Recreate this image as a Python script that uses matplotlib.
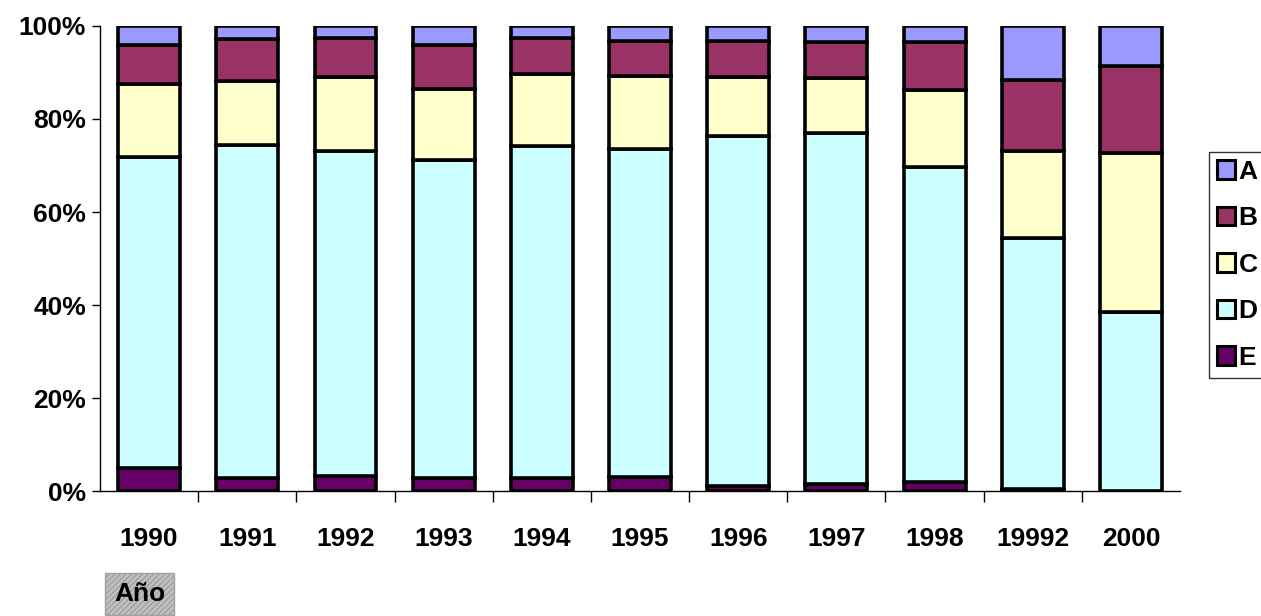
import numpy as np
import matplotlib.pyplot as plt
from matplotlib.patches import Patch

plt.rcParams['font.family'] = ['Liberation Sans', 'DejaVu Sans']
plt.rcParams['font.weight'] = 'bold'
plt.rcParams['hatch.color'] = '#888888'

# data (percent shares per year)
years = ['1990', '1991', '1992', '1993', '1994', '1995', '1996', '1997', '1998', '19992', '2000']
E = [4.9, 2.8, 3.2, 2.8, 2.8, 3.0, 1.1, 1.5, 1.9, 0.4, 0.1]
D = [66.9, 71.6, 69.9, 68.4, 71.4, 70.5, 75.2, 75.5, 67.8, 54.0, 38.4]
C = [15.7, 13.8, 15.9, 15.3, 15.5, 15.7, 12.7, 11.8, 16.5, 18.7, 34.2]
B = [8.4, 9.0, 8.4, 9.4, 7.7, 7.6, 7.8, 7.8, 10.4, 15.3, 18.6]
A = [4.1, 2.8, 2.6, 4.1, 2.6, 3.2, 3.2, 3.4, 3.4, 11.6, 8.7]

series = [('E', E, '#660066'), ('D', D, '#CCFFFF'), ('C', C, '#FFFFCC'),
          ('B', B, '#993366'), ('A', A, '#9999FF')]

fig = plt.figure(figsize=(12.61, 6.16), dpi=100)
ax = fig.add_axes([0.0793, 0.2029, 0.8565, 0.7549])

x = np.arange(len(years))
bottom = np.zeros(len(years))
for name, vals, col in series:
    vals = np.array(vals)
    ax.bar(x, vals, bottom=bottom, width=0.63, color=col, edgecolor='black', linewidth=2.6)
    bottom += vals

ax.set_xlim(-0.5, len(years) - 0.5)
ax.set_ylim(0, 100)
ax.set_yticks(np.arange(0, 101, 20))
ax.set_yticklabels([f'{v}%' for v in range(0, 101, 20)], fontsize=19, fontweight='bold')
ax.set_xticks(x)
ax.set_xticklabels(years, fontsize=19, fontweight='bold')
ax.tick_params(axis='x', length=0, pad=26)
ax.set_xticks(np.arange(0.5, len(years) - 0.5, 1), minor=True)
ax.tick_params(axis='x', which='minor', length=8, direction='out', width=1)
ax.tick_params(axis='y', length=6, width=1, pad=4)
ax.spines['top'].set_visible(False)
ax.spines['right'].set_visible(False)
ax.spines['left'].set_linewidth(1)
ax.spines['bottom'].set_linewidth(1)

# legend, top entry first (cut off at the right edge like the original)
handles = [Patch(facecolor=col, edgecolor='black', linewidth=2.2, label=name)
           for name, vals, col in series[::-1]]
leg = fig.legend(handles=handles, loc='upper left', bbox_to_anchor=(1209 / 1261, 1 - 152 / 616),
                 frameon=True, fancybox=False, edgecolor='black', fontsize=19,
                 handlelength=0.7, handleheight=0.7, handletextpad=0.12,
                 labelspacing=0.85, borderpad=0.3, borderaxespad=0)
leg.get_frame().set_linewidth(1)
for t in leg.get_texts():
    t.set_fontweight('bold')

# axis title in a gray hatched box
fig.text(114 / 1261, 1 - 594 / 616, 'Año', fontsize=19, fontweight='bold', va='center', ha='left',
         bbox=dict(boxstyle='square,pad=0.33', facecolor='#C0C0C0', edgecolor='#A0A0A0', hatch='//////'))

fig.savefig('out.png', dpi=100)
